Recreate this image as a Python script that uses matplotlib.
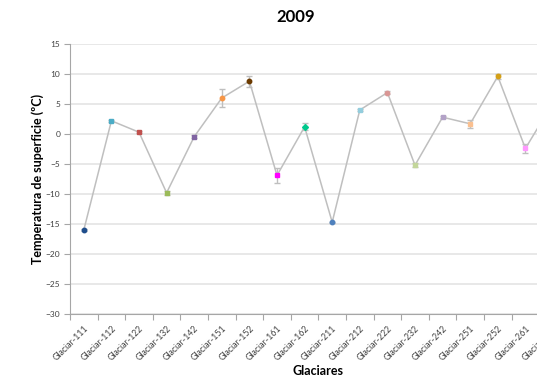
import matplotlib
matplotlib.use("Agg")
import matplotlib.pyplot as plt
import numpy as np

glaciers = ["Glaciar-111", "Glaciar-112", "Glaciar-122", "Glaciar-132", "Glaciar-142",
            "Glaciar-151", "Glaciar-152", "Glaciar-161", "Glaciar-162", "Glaciar-211",
            "Glaciar-212", "Glaciar-222", "Glaciar-232", "Glaciar-242", "Glaciar-251",
            "Glaciar-252", "Glaciar-261", "Glaciar-262"]
temps = [-16.0, 2.2, 0.3, -9.8, -0.45, 6.0, 8.8, -6.9, 1.2, -14.7,
         4.0, 6.9, -5.2, 2.8, 1.7, 9.6, -2.4, 5.2]
errors = [0.1, 0.2, 0.2, 0.3, 0.2, 1.5, 0.9, 1.3, 0.6, 0.1,
          0.2, 0.2, 0.3, 0.2, 0.7, 0.4, 0.7, 0.5]
colors = ["#1f4e8c", "#4bacc6", "#c0504d", "#9bbb59", "#8064a2", "#f79646",
          "#6b3a00", "#ff00ff", "#00c88c", "#4f81bd", "#93cddd", "#d99694",
          "#c3d69b", "#b3a2c7", "#fac090", "#d4a017", "#ff99ff", "#7f7f7f"]
markers = ["o", "s", "s", "s", "s", "o", "o", "s", "D", "o",
           "s", "o", "s", "s", "s", "o", "s", "s"]

W, H = 537, 383
fig = plt.figure(figsize=(W / 100, H / 100), dpi=100)
plt.rcParams["font.family"] = ["Lato", "DejaVu Sans"]

n = len(glaciers)
x = np.arange(n)
left, top, bottom = 70, 44, 314
width = n * 27.6
ax = fig.add_axes([left / W, 1 - bottom / H, width / W, (bottom - top) / H])

ax.errorbar(x, temps, yerr=errors, fmt="none", ecolor="#bfbfbf",
            elinewidth=1, capsize=2.5, capthick=1, zorder=2)
ax.plot(x, temps, color="#bfbfbf", lw=1.1, zorder=3)
for xi, yi, c, m in zip(x, temps, colors, markers):
    ax.plot(xi, yi, marker=m, ms=3.2 if m != "D" else 3, color=c, mec=c, zorder=4)

ax.set_xlim(-0.5, n - 0.5)
ax.set_ylim(-30, 15)
ax.set_yticks(np.arange(-30, 16, 5))
ax.yaxis.grid(True, color="#e6e6e6", lw=1.3)
ax.set_axisbelow(True)

ax.set_xticks(x)
ax.set_xticklabels(glaciers, rotation=45, ha="right", rotation_mode="anchor",
                   fontsize=6.3, color="#404040")
ax.set_xticks(np.arange(-0.5, n, 1), minor=True)
ax.tick_params(axis="x", which="major", length=0, pad=7)
ax.tick_params(axis="x", which="minor", length=4, color="#a6a6a6", width=0.8)
ax.tick_params(axis="y", length=4, color="#a6a6a6", width=0.8,
               labelsize=6, labelcolor="#404040", pad=3)

for s in ["top", "right"]:
    ax.spines[s].set_visible(False)
for s in ["left", "bottom"]:
    ax.spines[s].set_color("#a6a6a6")
    ax.spines[s].set_linewidth(0.8)

ax.set_ylabel("Temperatura de superficie (ºC)", fontsize=9, fontweight="bold")
ax.yaxis.set_label_coords(-26 / width, 0.5)
ax.set_xlabel("Glaciares", fontsize=9, fontweight="bold", labelpad=2)
fig.text(296 / W, 1 - 17 / H, "2009", fontsize=12, fontweight="bold",
         ha="center", va="center")

fig.savefig("out.png", dpi=100)
